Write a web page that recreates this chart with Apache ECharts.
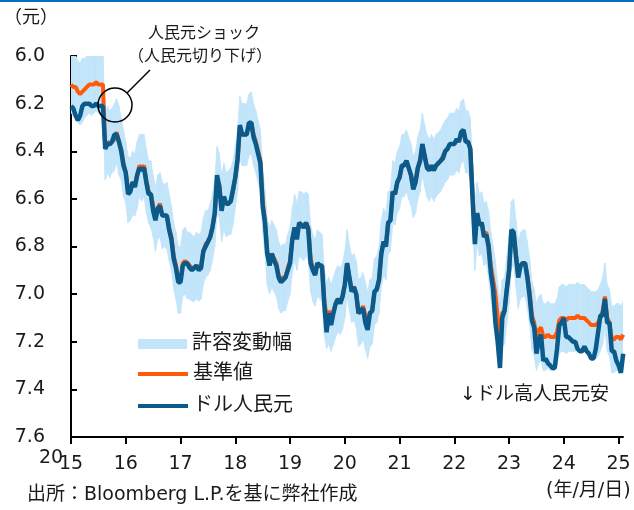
<!DOCTYPE html>
<html>
<head>
<meta charset="utf-8">
<script src="https://cdn.jsdelivr.net/npm/echarts@6/dist/echarts.min.js"></script>
<style>
  html, body { margin: 0; padding: 0; background: #fff; }
  #chartsBox1 { width: 634px; height: 510px; }
</style>
</head>
<body>
<div id="chartsBox1"></div>
<script>
// readings on the 1st and 16th of each month, Jan 2015 - Feb 2025
var startYear = 2015
var perYear = 24
var xLabels = ['15','16','17','18','19','20','21','22','23','24','25']
var yTicks = [6.0, 6.2, 6.4, 6.6, 6.8, 7.0, 7.2, 7.4, 7.6]

// ドル人民元
var spot = [
  6.21,6.22,6.25,6.27,6.25,6.21,6.20,6.20,6.20,6.21,6.21,6.20,6.21,6.21,6.21,6.39,6.37,6.37,6.36,6.33,6.33,6.36,6.40,6.46,
  6.49,6.58,6.57,6.53,6.55,6.50,6.47,6.48,6.47,6.53,6.58,6.58,6.65,6.69,6.64,6.63,6.67,6.67,6.67,6.73,6.77,6.85,6.89,6.95,
  6.95,6.88,6.87,6.87,6.89,6.90,6.89,6.88,6.90,6.89,6.82,6.80,6.78,6.76,6.72,6.66,6.50,6.55,6.65,6.59,6.62,6.62,6.61,6.56,
  6.51,6.43,6.29,6.33,6.33,6.33,6.28,6.28,6.34,6.37,6.41,6.45,6.63,6.70,6.83,6.88,6.83,6.86,6.88,6.93,6.95,6.94,6.93,6.90,
  6.87,6.77,6.72,6.77,6.70,6.71,6.72,6.70,6.73,6.87,6.90,6.92,6.87,6.88,6.88,7.04,7.16,7.08,7.13,7.08,7.04,7.02,7.04,7.01,
  6.96,6.87,6.93,6.99,6.97,7.00,7.08,7.07,7.06,7.12,7.15,7.08,7.07,6.99,6.98,6.94,6.83,6.78,6.80,6.70,6.69,6.57,6.58,6.53,
  6.51,6.46,6.46,6.44,6.47,6.50,6.56,6.53,6.47,6.44,6.37,6.42,6.47,6.48,6.46,6.48,6.46,6.45,6.44,6.43,6.40,6.39,6.37,6.37,
  6.37,6.35,6.36,6.32,6.31,6.36,6.36,6.39,6.60,6.79,6.66,6.71,6.70,6.76,6.75,6.80,6.91,6.98,7.12,7.20,7.31,7.10,7.07,6.98,
  6.90,6.73,6.74,6.84,6.93,6.88,6.87,6.87,6.93,7.01,7.11,7.14,7.25,7.19,7.17,7.28,7.27,7.29,7.30,7.31,7.31,7.23,7.13,7.12,
  7.10,7.18,7.18,7.19,7.20,7.20,7.23,7.24,7.24,7.22,7.24,7.25,7.27,7.27,7.23,7.16,7.09,7.09,7.02,7.12,7.12,7.24,7.24,7.28,
  7.30,7.33,7.25
]

// 基準値
var fixing = [
  6.12,6.13,6.13,6.15,6.16,6.15,6.14,6.13,6.12,6.12,6.12,6.11,6.12,6.12,6.12,6.39,6.36,6.37,6.36,6.35,6.32,6.36,6.39,6.45,
  6.49,6.56,6.56,6.53,6.54,6.50,6.46,6.47,6.46,6.52,6.57,6.58,6.63,6.68,6.64,6.62,6.67,6.67,6.67,6.72,6.76,6.84,6.88,6.94,
  6.94,6.87,6.86,6.87,6.88,6.89,6.89,6.88,6.89,6.88,6.82,6.79,6.78,6.76,6.72,6.66,6.52,6.54,6.64,6.59,6.62,6.62,6.61,6.57,
  6.51,6.44,6.30,6.33,6.33,6.33,6.29,6.28,6.33,6.36,6.40,6.44,6.61,6.69,6.82,6.86,6.83,6.85,6.87,6.92,6.94,6.93,6.93,6.89,
  6.86,6.77,6.72,6.76,6.70,6.71,6.72,6.70,6.72,6.85,6.89,6.91,6.87,6.88,6.89,7.03,7.09,7.07,7.10,7.07,7.04,7.02,7.03,7.01,
  6.96,6.87,6.93,6.98,6.97,7.00,7.08,7.07,7.05,7.09,7.13,7.08,7.07,6.99,6.98,6.94,6.83,6.78,6.80,6.70,6.69,6.57,6.58,6.53,
  6.51,6.46,6.46,6.44,6.47,6.50,6.55,6.53,6.47,6.44,6.37,6.42,6.46,6.48,6.46,6.48,6.46,6.45,6.44,6.42,6.40,6.39,6.37,6.37,
  6.37,6.35,6.36,6.32,6.31,6.36,6.36,6.39,6.58,6.76,6.66,6.71,6.70,6.75,6.74,6.79,6.88,6.94,7.00,7.10,7.17,7.08,7.07,6.98,
  6.90,6.75,6.74,6.83,6.92,6.88,6.87,6.87,6.92,6.99,7.09,7.12,7.18,7.15,7.14,7.18,7.18,7.17,7.18,7.18,7.18,7.16,7.11,7.10,
  7.10,7.11,7.10,7.10,7.10,7.10,7.09,7.10,7.10,7.10,7.11,7.12,7.13,7.13,7.13,7.12,7.10,7.07,7.01,7.10,7.12,7.19,7.19,7.18,
  7.18,7.19,7.17
]

// 許容変動幅 (lower / upper edge)
var bandLow = [
  5.99,5.99,5.99,6.02,6.03,6.01,6.01,5.99,5.99,5.99,5.99,5.99,5.99,5.99,5.99,6.25,6.21,6.23,6.22,6.20,6.18,6.21,6.26,6.31,
  6.36,6.42,6.43,6.40,6.41,6.36,6.33,6.33,6.33,6.39,6.44,6.44,6.50,6.55,6.50,6.49,6.53,6.54,6.53,6.58,6.63,6.70,6.74,6.80,
  6.80,6.73,6.72,6.74,6.74,6.75,6.76,6.74,6.75,6.74,6.68,6.65,6.65,6.62,6.58,6.52,6.38,6.41,6.50,6.45,6.49,6.48,6.47,6.44,
  6.38,6.31,6.17,6.20,6.20,6.20,6.16,6.15,6.20,6.23,6.27,6.31,6.47,6.56,6.68,6.72,6.69,6.71,6.73,6.78,6.80,6.79,6.79,6.75,
  6.72,6.64,6.58,6.62,6.57,6.57,6.58,6.57,6.58,6.71,6.75,6.77,6.73,6.74,6.75,6.89,6.95,6.93,6.96,6.93,6.90,6.88,6.89,6.87,
  6.82,6.73,6.79,6.84,6.83,6.86,6.94,6.93,6.91,6.95,6.99,6.94,6.93,6.85,6.84,6.80,6.69,6.64,6.66,6.57,6.56,6.44,6.45,6.40,
  6.38,6.33,6.33,6.31,6.34,6.37,6.42,6.40,6.34,6.31,6.24,6.29,6.33,6.35,6.33,6.35,6.33,6.32,6.31,6.29,6.27,6.26,6.24,6.24,
  6.24,6.22,6.23,6.19,6.18,6.23,6.23,6.26,6.45,6.62,6.53,6.58,6.57,6.62,6.61,6.65,6.74,6.80,6.86,6.96,7.03,6.94,6.93,6.84,
  6.76,6.61,6.60,6.69,6.78,6.74,6.73,6.73,6.78,6.85,6.95,6.98,7.04,7.01,7.00,7.04,7.04,7.03,7.04,7.04,7.04,7.02,6.97,6.96,
  6.96,6.97,6.96,6.96,6.96,6.96,6.95,6.96,6.96,6.96,6.97,6.98,6.99,6.99,6.99,6.98,6.96,6.93,6.87,6.96,6.98,7.05,7.05,7.04,
  7.04,7.05,7.03
]
var bandHigh = [
  6.24,6.25,6.26,6.28,6.29,6.28,6.26,6.25,6.24,6.25,6.24,6.23,6.24,6.25,6.24,6.52,6.49,6.51,6.49,6.48,6.45,6.50,6.52,6.59,
  6.62,6.70,6.69,6.67,6.67,6.64,6.59,6.61,6.59,6.66,6.70,6.72,6.76,6.82,6.77,6.76,6.81,6.80,6.81,6.86,6.90,6.98,7.02,7.08,
  7.08,7.01,7.00,7.02,7.02,7.03,7.03,7.02,7.03,7.02,6.96,6.93,6.92,6.90,6.86,6.80,6.66,6.68,6.78,6.73,6.76,6.75,6.75,6.71,
  6.64,6.57,6.43,6.46,6.46,6.46,6.42,6.41,6.46,6.49,6.53,6.57,6.74,6.83,6.96,7.00,6.97,6.99,7.01,7.06,7.08,7.07,7.07,7.03,
  7.00,6.91,6.86,6.90,6.84,6.85,6.86,6.84,6.86,6.99,7.03,7.05,7.01,7.02,7.03,7.17,7.23,7.21,7.24,7.21,7.18,7.16,7.17,7.15,
  7.10,7.01,7.07,7.12,7.11,7.14,7.22,7.21,7.19,7.23,7.27,7.22,7.21,7.13,7.12,7.08,6.97,6.92,6.94,6.83,6.82,6.70,6.71,6.66,
  6.64,6.59,6.59,6.57,6.60,6.63,6.68,6.66,6.60,6.57,6.50,6.55,6.59,6.61,6.59,6.61,6.59,6.58,6.57,6.55,6.53,6.52,6.50,6.50,
  6.50,6.48,6.49,6.45,6.44,6.49,6.49,6.52,6.71,6.90,6.79,6.84,6.83,6.88,6.87,6.93,7.02,7.08,7.14,7.24,7.31,7.22,7.21,7.12,
  7.04,6.89,6.88,6.97,7.06,7.02,7.01,7.01,7.06,7.13,7.23,7.26,7.32,7.29,7.28,7.32,7.32,7.31,7.32,7.32,7.32,7.30,7.25,7.24,
  7.24,7.25,7.24,7.24,7.24,7.24,7.23,7.24,7.24,7.24,7.25,7.26,7.27,7.27,7.27,7.26,7.24,7.21,7.15,7.24,7.26,7.33,7.33,7.32,
  7.32,7.33,7.31
]

var blue = '#0b5a8c'
var orange = '#ff5a0a'
var bandColor = '#c2e5fa'
var textColor = '#1a1a1a'
var font = '"DejaVu Sans", "Noto Sans CJK JP", sans-serif'

function xAt(i) { return startYear + i / perYear }
function toPoints(vals) {
    return vals.map(function (v, i) { return [xAt(i), v] })
}
var yearTicks = xLabels.map(function (s, i) { return startYear + i })

// one quad per step between two readings of the band
var bandSegments = []
for (var i = 0; i < bandLow.length - 1; i++) {
    bandSegments.push([xAt(i), bandLow[i], bandHigh[i], xAt(i + 1), bandLow[i + 1], bandHigh[i + 1]])
}

option1 = {
    animation: false,
    backgroundColor: '#fff',
    textStyle: { fontFamily: font, color: textColor },
    grid: { left: 71, top: 56, right: 11, bottom: 73 },
    legend: [
        {
            data: ['許容変動幅'], left: 138, top: 334, padding: 0,
            icon: 'rect', itemWidth: 49, itemHeight: 10, itemGap: 4,
            textStyle: { fontSize: 20, color: textColor, fontFamily: font }
        },
        {
            data: ['基準値'], left: 138, top: 364, padding: 0,
            icon: 'rect', itemWidth: 50, itemHeight: 4,
            textStyle: { fontSize: 20, color: textColor, fontFamily: font }
        },
        {
            data: ['ドル人民元'], left: 138, top: 396, padding: 0,
            icon: 'rect', itemWidth: 50, itemHeight: 4,
            textStyle: { fontSize: 20, color: textColor, fontFamily: font }
        }
    ],
    xAxis: {
        type: 'value',
        min: 2015,
        max: 2025.08,
        splitLine: { show: false },
        axisLine: { onZero: false, lineStyle: { color: '#000', width: 2 } },
        axisTick: { customValues: yearTicks, length: 7, lineStyle: { color: '#000', width: 2 } },
        axisLabel: {
            customValues: yearTicks,
            margin: 18,
            fontSize: 19,
            color: textColor,
            formatter: function (v) { return xLabels[Math.round(v - startYear)] }
        }
    },
    yAxis: {
        type: 'value',
        inverse: true,
        min: yTicks[0],
        max: yTicks[yTicks.length - 1],
        interval: 0.2,
        splitLine: { show: false },
        axisLine: { show: true, lineStyle: { color: '#000', width: 2 } },
        axisTick: { show: true, inside: true, length: 6, lineStyle: { color: '#000', width: 2 } },
        axisLabel: {
            margin: 26,
            fontSize: 19,
            color: textColor,
            formatter: function (v) { return v.toFixed(1) }
        }
    },
    graphic: [
        { type: 'rect', left: 0, top: 0, shape: { width: 634, height: 2 }, style: { fill: '#0070c0' } },
        { type: 'text', left: 4, top: 7, style: { text: '（元）', fill: textColor, font: '18px "Noto Sans CJK JP"' } },
        { type: 'text', left: 39, top: 449, style: { text: '20', fill: textColor, font: '19px "DejaVu Sans"' } },
        { type: 'text', left: 148, top: 24, style: { text: '人民元ショック', fill: textColor, font: '16px "Noto Sans CJK JP"' } },
        { type: 'text', left: 128, top: 47, style: { text: '（人民元切り下げ）', fill: textColor, font: '16px "Noto Sans CJK JP"' } },
        { type: 'circle', shape: { cx: 115, cy: 105, r: 17 }, style: { fill: 'none', stroke: '#000', lineWidth: 1.5 }, z: 100 },
        { type: 'line', shape: { x1: 127, y1: 93, x2: 150, y2: 70 }, style: { stroke: '#000', lineWidth: 1.5 }, z: 100 },
        { type: 'text', left: 460, top: 386, style: { text: '↓ドル高人民元安', fill: textColor, font: '19px "DejaVu Sans", "Noto Sans CJK JP"' } },
        { type: 'text', left: 27, top: 486, style: { text: '出所：Bloomberg L.P.を基に弊社作成', fill: textColor, font: '19px "DejaVu Sans", "Noto Sans CJK JP"' } },
        { type: 'text', left: 546, top: 482, style: { text: '(年/月/日)', fill: textColor, font: '19px "DejaVu Sans", "Noto Sans CJK JP"' } }
    ],
    series: [
        {
            name: '許容変動幅',
            type: 'custom',
            data: bandSegments,
            encode: { x: [0, 3], y: [1, 2, 4, 5] },
            clip: true,
            silent: true,
            itemStyle: { color: bandColor },
            renderItem: function (params, api) {
                var pts = [
                    api.coord([api.value(0), api.value(1)]),
                    api.coord([api.value(3), api.value(4)]),
                    api.coord([api.value(3), api.value(5)]),
                    api.coord([api.value(0), api.value(2)])
                ]
                var cs = params.coordSys
                pts = echarts.graphic.clipPointsByRect(pts, { x: cs.x, y: cs.y, width: cs.width, height: cs.height })
                return {
                    type: 'polygon',
                    shape: { points: pts },
                    style: { fill: bandColor, stroke: bandColor, lineWidth: 0.8 }
                }
            }
        },
        {
            name: '基準値',
            type: 'line',
            data: toPoints(fixing),
            symbol: 'none',
            color: orange,
            itemStyle: { color: orange },
            lineStyle: { color: orange, width: 4 }
        },
        {
            name: 'ドル人民元',
            type: 'line',
            data: toPoints(spot),
            symbol: 'none',
            color: blue,
            itemStyle: { color: blue },
            lineStyle: { color: blue, width: 4.5 }
        }
    ]
};

var chartsBox1 = echarts.init(document.getElementById('chartsBox1'));
chartsBox1.setOption(option1);
</script>
</body>
</html>
